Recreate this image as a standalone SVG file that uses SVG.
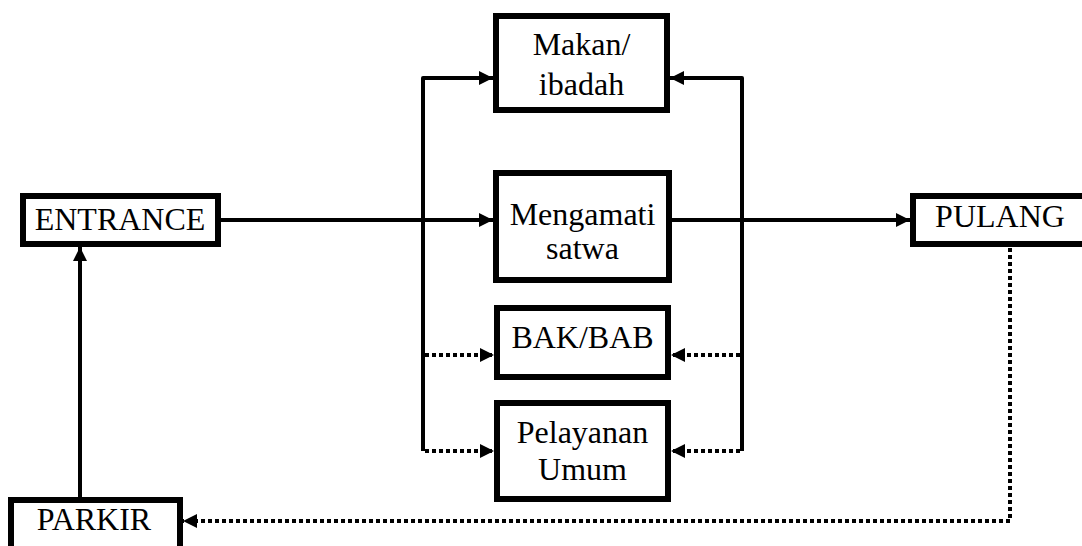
<svg xmlns="http://www.w3.org/2000/svg" width="1082" height="546" viewBox="0 0 1082 546">
<defs>
<marker id="ah" markerUnits="userSpaceOnUse" markerWidth="16" markerHeight="16" refX="14" refY="7" orient="auto">
<path d="M0,0 L14,7 L0,14 z" fill="#000"/>
</marker>
<style>
.box{fill:#fff;stroke:#000;stroke-width:6}
.t{font-family:"Liberation Serif","Times New Roman",serif;font-size:32px;fill:#000;text-anchor:middle}
.s{fill:none;stroke:#000;stroke-width:4;stroke-linejoin:round}
.d{fill:none;stroke:#000;stroke-width:4;stroke-dasharray:4 3}
</style>
</defs>
<rect width="1082" height="546" fill="#fff"/>
<g id="connectors">
<line class="s" x1="221" y1="220" x2="493" y2="220" marker-end="url(#ah)"/>
<line class="s" x1="672" y1="220" x2="910" y2="220" marker-end="url(#ah)"/>
<path class="s" d="M423,451 L423,78 L493,78" marker-end="url(#ah)"/>
<path class="s" d="M742,451 L742,78 L670,78" marker-end="url(#ah)"/>
<line class="d" x1="425" y1="355" x2="494" y2="355" marker-end="url(#ah)"/>
<line class="d" x1="425" y1="451" x2="494" y2="451" marker-end="url(#ah)"/>
<line class="d" x1="740" y1="355" x2="671" y2="355" marker-end="url(#ah)"/>
<line class="d" x1="740" y1="451" x2="671" y2="451" marker-end="url(#ah)"/>
<path class="d" d="M1010,248 L1010,521 L183,521" marker-end="url(#ah)"/>
<line class="s" x1="80" y1="497" x2="80" y2="247" marker-end="url(#ah)"/>
</g>
<g id="entrance"><rect class="box" x="23" y="196" width="195" height="48"/><text class="t" x="120" y="230">ENTRANCE</text></g>
<g id="makan"><rect class="box" x="496" y="16" width="171" height="94"/><text class="t" x="581.5" y="55">Makan/</text><text class="t" x="581.5" y="95">ibadah</text></g>
<g id="mengamati"><rect class="box" x="496" y="173" width="173" height="107"/><text class="t" x="582.5" y="225">Mengamati</text><text class="t" x="582.5" y="259">satwa</text></g>
<g id="bakbab"><rect class="box" x="497" y="308" width="171" height="69"/><text class="t" x="582.5" y="348">BAK/BAB</text></g>
<g id="pelayanan"><rect class="box" x="497" y="403" width="171" height="96"/><text class="t" x="582.5" y="443">Pelayanan</text><text class="t" x="582.5" y="480">Umum</text></g>
<g id="pulang"><rect class="box" x="913" y="196" width="200" height="48"/><text class="t" x="1000" y="227">PULANG</text></g>
<g id="parkir"><rect class="box" x="11" y="500" width="169" height="60"/><text class="t" x="94" y="530">PARKIR</text></g>
</svg>
